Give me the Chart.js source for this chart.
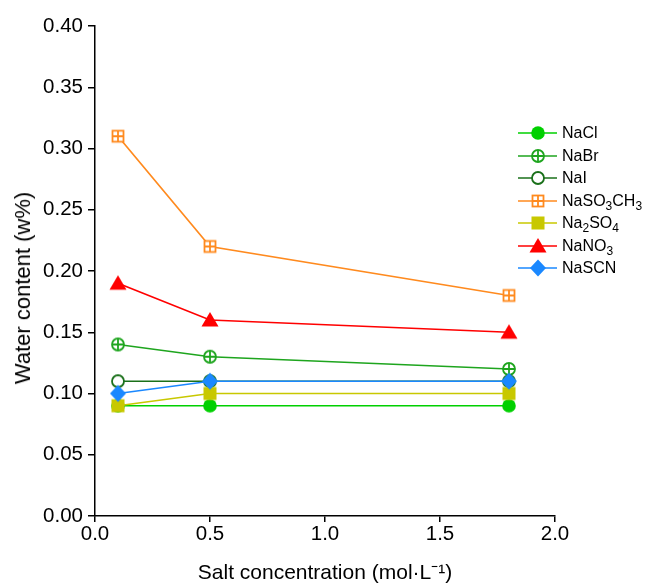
<!DOCTYPE html>
<html>
<head>
<meta charset="utf-8">
<script src="https://cdn.jsdelivr.net/npm/chart.js@4/dist/chart.umd.min.js"></script>
<style>
  html, body { margin: 0; padding: 0; background: #fff; }
  #wrap { position: relative; width: 646px; height: 586px; }
  #legend { position: absolute; left: 518px; top: 122px; font-family: "Liberation Sans", Arial, sans-serif; font-size: 16px; color: #000; }
  .row { display: flex; align-items: center; height: 22.5px; white-space: nowrap; }
  .row canvas { display: block; margin-right: 5px; }
  sub { font-size: 12px; vertical-align: -4px; line-height: 0; }
  #ytitle { position: absolute; left: 23px; top: 288px; transform: translate(-50%, -50%) rotate(-90deg); font-family: "Liberation Sans", Arial, sans-serif; font-size: 22px; color: #000; white-space: nowrap; line-height: 1; }
</style>
</head>
<body>
<div id="wrap">
  <canvas id="c" width="646" height="586"></canvas>
  <div id="ytitle">Water content (w%)</div>
  <div id="legend"></div>
</div>
<script>
const concentrations = [0.1, 0.5, 1.8];
const seriesNames = ['NaCl', 'NaBr', 'NaI', 'NaSO3CH3', 'Na2SO4', 'NaNO3', 'NaSCN'];
const legendLabels = ['NaCl', 'NaBr', 'NaI', 'NaSO<sub>3</sub>CH<sub>3</sub>', 'Na<sub>2</sub>SO<sub>4</sub>', 'NaNO<sub>3</sub>', 'NaSCN'];
const NaCl = [0.09, 0.09, 0.09];
const NaBr = [0.14, 0.13, 0.12];
const NaI = [0.11, 0.11, 0.11];
const NaSO3CH3 = [0.31, 0.22, 0.18];
const Na2SO4 = [0.09, 0.10, 0.10];
const NaNO3 = [0.19, 0.16, 0.15];
const NaSCN = [0.10, 0.11, 0.11];
const yTicks = [0, 0.05, 0.10, 0.15, 0.20, 0.25, 0.30, 0.35, 0.40];
const xTicks = [0, 0.5, 1.0, 1.5, 2.0];

const allValues = [NaCl, NaBr, NaI, NaSO3CH3, Na2SO4, NaNO3, NaSCN];
const colors = ['#00d000', '#1ea51e', '#1a701a', '#ff8a1e', '#c8c800', '#ff0000', '#1a88ff'];

function makeMarker(type, color) {
  const s = 20;
  const cv = document.createElement('canvas');
  cv.width = s; cv.height = s;
  const g = cv.getContext('2d');
  const c = s / 2;
  g.lineWidth = 1.8;
  g.strokeStyle = color;
  g.fillStyle = color;
  if (type === 'circleFill') {
    g.beginPath(); g.arc(c, c, 6.8, 0, Math.PI * 2); g.fill();
  } else if (type === 'circlePlus') {
    g.fillStyle = '#fff';
    g.beginPath(); g.arc(c, c, 6, 0, Math.PI * 2); g.fill(); g.stroke();
    g.beginPath(); g.moveTo(c - 6, c); g.lineTo(c + 6, c); g.moveTo(c, c - 6); g.lineTo(c, c + 6); g.stroke();
  } else if (type === 'circleOpen') {
    g.fillStyle = '#fff';
    g.beginPath(); g.arc(c, c, 6, 0, Math.PI * 2); g.fill(); g.stroke();
  } else if (type === 'squarePlus') {
    g.fillStyle = '#fff';
    g.fillRect(c - 5.5, c - 5.5, 11, 11);
    g.strokeRect(c - 5.5, c - 5.5, 11, 11);
    g.beginPath(); g.moveTo(c - 5.5, c); g.lineTo(c + 5.5, c); g.moveTo(c, c - 5.5); g.lineTo(c, c + 5.5); g.stroke();
  } else if (type === 'squareFill') {
    g.fillRect(c - 6.5, c - 6.5, 13, 13);
  } else if (type === 'triangle') {
    g.beginPath(); g.moveTo(c, c - 8); g.lineTo(c + 8.5, c + 6.5); g.lineTo(c - 8.5, c + 6.5); g.closePath(); g.fill();
  } else if (type === 'diamond') {
    g.beginPath(); g.moveTo(c, c - 8.5); g.lineTo(c + 8, c); g.lineTo(c, c + 8.5); g.lineTo(c - 8, c); g.closePath(); g.fill();
  }
  return cv;
}
const markerTypes = ['circleFill', 'circlePlus', 'circleOpen', 'squarePlus', 'squareFill', 'triangle', 'diamond'];
const markers = markerTypes.map((t, i) => makeMarker(t, colors[i]));

const datasets = seriesNames.map((name, i) => ({
  label: name,
  data: concentrations.map((x, j) => ({ x: x, y: allValues[i][j] })),
  borderColor: colors[i],
  backgroundColor: colors[i],
  borderWidth: 1.7,
  pointStyle: markers[i],
  pointRadius: 9,
  tension: 0,
  order: seriesNames.length - i
}));

const tickFont = { family: '"Liberation Sans", Arial, sans-serif', size: 20.5 };
const titleFont = { family: '"Liberation Sans", Arial, sans-serif', size: 21 };

new Chart(document.getElementById('c'), {
  type: 'line',
  data: { datasets },
  options: {
    responsive: false,
    animation: false,
    devicePixelRatio: 1,
    layout: { padding: { left: 0, right: 91, top: 26, bottom: 0 } },
    plugins: { legend: { display: false }, tooltip: { enabled: false } },
    scales: {
      x: {
        type: 'linear', min: 0, max: 2,
        afterBuildTicks: (ax) => { ax.ticks = xTicks.map(v => ({ value: v })); },
        afterFit: (ax) => { ax.height = 70; },
        ticks: { font: tickFont, color: '#000', padding: 0, callback: v => v.toFixed(1), maxRotation: 0 },
        grid: { drawOnChartArea: false, drawTicks: true, tickLength: 6, color: '#000', lineWidth: 1.5 },
        border: { display: true, color: '#000', width: 1.5 },
        title: { display: true, text: 'Salt concentration (mol·L⁻¹)', font: titleFont, color: '#000', padding: { top: 6, bottom: 0 } }
      },
      y: {
        type: 'linear', min: 0, max: 0.4,
        afterBuildTicks: (ax) => { ax.ticks = yTicks.map(v => ({ value: v })); },
        afterFit: (ax) => { ax.width = 95; },
        ticks: { font: tickFont, color: '#000', padding: 5, callback: v => v.toFixed(2) },
        grid: { drawOnChartArea: false, drawTicks: true, tickLength: 7, color: '#000', lineWidth: 1.5 },
        border: { display: true, color: '#000', width: 1.5 },
        title: { display: false }
      }
    }
  }
});

const legend = document.getElementById('legend');
seriesNames.forEach((name, i) => {
  const row = document.createElement('div');
  row.className = 'row';
  const cv = document.createElement('canvas');
  cv.width = 39; cv.height = 20;
  const g = cv.getContext('2d');
  g.strokeStyle = colors[i]; g.lineWidth = 1.7;
  g.beginPath(); g.moveTo(0, 10); g.lineTo(39, 10); g.stroke();
  g.drawImage(markers[i], 20 - 10, 0);
  row.appendChild(cv);
  const span = document.createElement('span');
  span.innerHTML = legendLabels[i];
  row.appendChild(span);
  legend.appendChild(row);
});
</script>
</body>
</html>
